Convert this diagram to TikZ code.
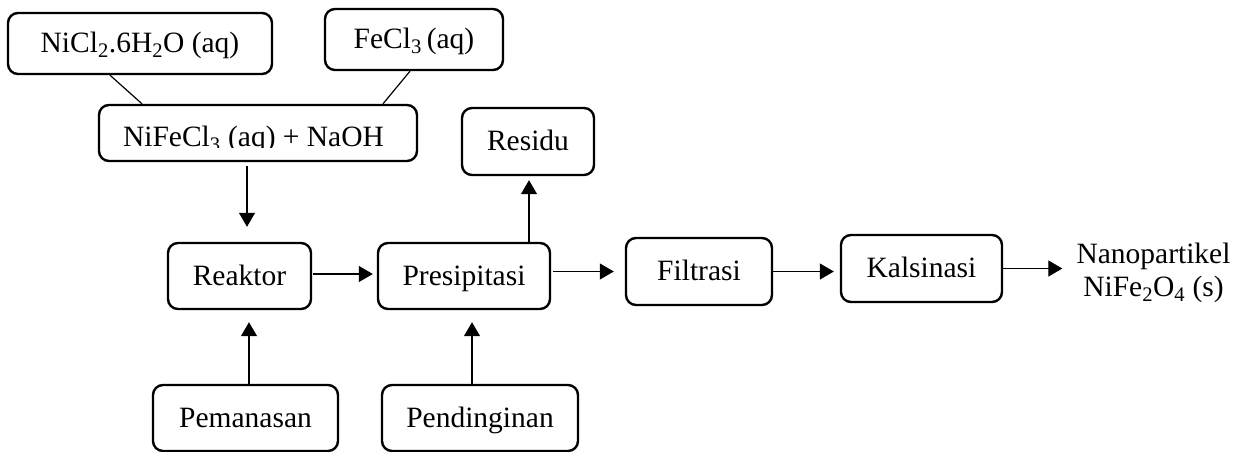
\documentclass[tikz,border=0pt]{standalone}
\usepackage{fontspec}
\setmainfont{Liberation Serif}
\usetikzlibrary{arrows.meta}
\begin{document}
\begin{tikzpicture}[x=1pt,y=-1pt,
  txt/.style={font=\fontsize{29.5}{33}\selectfont},
  box/.style={txt,draw,rounded corners=10pt,line width=2.4pt,inner sep=0pt,text height=20pt,text depth=2pt},
  link/.style={line width=1.2pt},
  arr/.style={link,-{Triangle[length=14pt,width=16pt]}}]
\useasboundingbox (0,0) rectangle (1239,452);
% boxes
\node[box,minimum width=264pt,minimum height=61pt] (nicl) at (140,43.5) {NiCl\textsubscript{2}.6H\textsubscript{2}O (aq)};
\node[box,minimum width=178pt,minimum height=61pt] (fecl) at (414,39.5) {FeCl\textsubscript{3}\,(aq)};
\node[box,minimum width=318pt,minimum height=56pt] (mix) at (258,133) {};
\begin{scope}
  \clip (99,105) rectangle (417,147);
  \node[txt,anchor=base,inner sep=0pt] (mixtext) at (253.5,146) {NiFeCl\textsubscript{3} (aq) + NaOH};
\end{scope}
\node[box,minimum width=132pt,minimum height=67pt] (residu) at (528,141.5) {Residu};
\node[box,minimum width=143pt,minimum height=66pt] (reak) at (239.5,276) {Reaktor};
\node[box,minimum width=172pt,minimum height=66pt] (pres) at (464,276) {Presipitasi};
\node[box,minimum width=146pt,minimum height=67pt] (filt) at (699,271.5) {Filtrasi};
\node[box,minimum width=161pt,minimum height=67pt] (kals) at (921.5,268.5) {Kalsinasi};
\node[box,minimum width=185pt,minimum height=66pt] (pem) at (245.5,418) {Pemanasan};
\node[box,minimum width=196pt,minimum height=66pt] (pend) at (480,418) {Pendinginan};
\node[txt,anchor=base,align=center,inner sep=0pt] (out) at (1153.5,296) {Nanopartikel\\NiFe\textsubscript{2}O\textsubscript{4} (s)};
% connectors
\draw[link] ([xshift=-30pt]nicl.south) -- ([xshift=-116pt]mix.north);
\draw[link] ([xshift=-4pt]fecl.south) -- ([xshift=125pt]mix.north);
\draw[arr,shorten <=4pt,shorten >=15pt] ([xshift=-11pt]mix.south) -- ([xshift=7.5pt]reak.north);
\draw[arr,shorten >=12pt] ([xshift=3.5pt]pem.north) -- ([xshift=9.5pt]reak.south);
\draw[arr,shorten >=12pt] ([xshift=-8pt]pend.north) -- ([xshift=8pt]pres.south);
\draw[arr,shorten <=1pt,shorten >=4pt] ([yshift=2pt]reak.east) -- ([yshift=2pt]pres.west);
\draw[arr,shorten >=4pt] ([xshift=65pt]pres.north) -- ([xshift=1pt]residu.south);
\draw[arr,shorten <=2pt,shorten >=11pt] (pres.east |- filt.west) -- (filt.west);
\draw[arr,shorten >=6pt] (filt.east) -- (filt.east -| kals.west);
\draw[arr,shorten >=14pt] (kals.east) -- (kals.east -| out.west);
\end{tikzpicture}
\end{document}
